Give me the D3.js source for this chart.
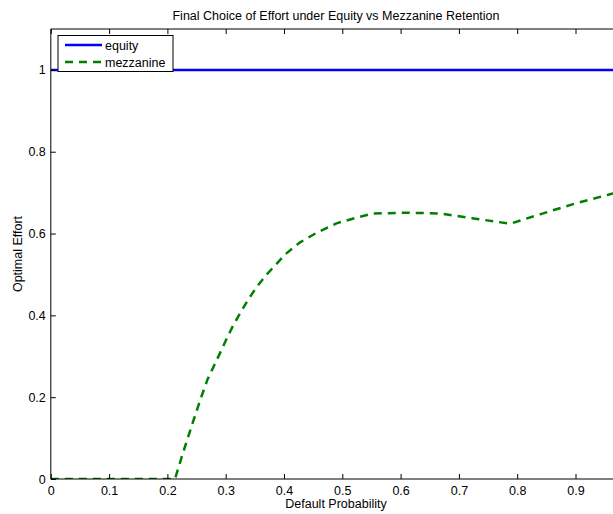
<!DOCTYPE html>
<html>
<head>
<meta charset="utf-8">
<script src="https://cdn.jsdelivr.net/npm/d3@7"></script>
<style>
    body { margin: 0; background: #fff; }
    svg { display: block; font-family: "Liberation Sans", Arial, sans-serif; }
</style>
</head>
<body>
<svg id="mainSvg" width="613" height="514"></svg>
<script>
// Data
let xTicks = [0, 0.1, 0.2, 0.3, 0.4, 0.5, 0.6, 0.7, 0.8, 0.9];
let yTicks = [0, 0.2, 0.4, 0.6, 0.8, 1];

let equityX = [0, 1];
let equityY = [1, 1];

let mezzX = [0, 0.1, 0.213, 0.227, 0.244, 0.257, 0.269, 0.278, 0.289, 0.300, 0.312,
    0.325, 0.338, 0.352, 0.369, 0.386, 0.402, 0.427, 0.456, 0.490, 0.525,
    0.553, 0.610, 0.668, 0.725, 0.788, 0.839, 0.896, 0.959, 1.0];
let mezzY = [0, 0, 0, 0.065, 0.14, 0.196, 0.244, 0.271, 0.304, 0.338, 0.373,
    0.406, 0.437, 0.467, 0.498, 0.524, 0.549, 0.578, 0.602, 0.625, 0.639,
    0.649, 0.651, 0.649, 0.637, 0.624, 0.647, 0.672, 0.696, 0.71];

let fontSize = "12.5px";

let svg = d3.select("#mainSvg");

// plot area (right edge runs past the window, as in the reference)
let pLeft = 50.8, pTop = 29, pBottom = 479;
let x = d3.scaleLinear().domain([0, 1]).range([pLeft, pLeft + 583]);
let y = d3.scaleLinear().domain([0, 1.1]).range([pBottom, pTop]);

svg.append("defs").append("clipPath").attr("id", "clip")
    .append("rect")
    .attr("x", pLeft).attr("y", pTop)
    .attr("width", 613 - pLeft).attr("height", pBottom - pTop);

let line = d3.line().x((d) => x(d[0])).y((d) => y(d[1]));

let g = svg.append("g").attr("clip-path", "url(#clip)");

g.append("path")
    .datum(d3.zip(equityX, equityY))
    .attr("d", line)
    .attr("fill", "none")
    .attr("stroke", "#0000ff")
    .attr("stroke-width", 2.5);

g.append("path")
    .datum(d3.zip(mezzX, mezzY))
    .attr("d", line)
    .attr("fill", "none")
    .attr("stroke", "#008000")
    .attr("stroke-width", 2.5)
    .attr("stroke-dasharray", "8,6");

// axes, MATLAB style: ticks pointing inward
let axisStyle = function (sel) {
    sel.select(".domain").remove();
    sel.selectAll("line").attr("stroke", "#000");
    sel.selectAll("text").attr("fill", "#000").style("font-size", fontSize);
};

svg.append("g")
    .attr("transform", `translate(0,${pBottom})`)
    .call(d3.axisBottom(x).tickValues(xTicks).tickFormat(d3.format("")).tickSizeInner(-5).tickPadding(7))
    .call(axisStyle);

svg.append("g")
    .attr("transform", `translate(0,${pTop})`)
    .call(d3.axisTop(x).tickValues(xTicks).tickFormat("").tickSizeInner(-5))
    .call(axisStyle);

svg.append("g")
    .attr("transform", `translate(${pLeft},0)`)
    .call(d3.axisLeft(y).tickValues(yTicks).tickFormat(d3.format("")).tickSizeInner(-5).tickPadding(5))
    .call(axisStyle);

// frame
svg.append("path")
    .attr("d", `M613,${pTop}H${pLeft}V${pBottom}H613`)
    .attr("fill", "none")
    .attr("stroke", "#000")
    .attr("stroke-width", 1);

// titles
svg.append("text")
    .attr("x", 336).attr("y", 20)
    .attr("text-anchor", "middle")
    .style("font-size", fontSize)
    .text("Final Choice of Effort under Equity vs Mezzanine Retention");

svg.append("text")
    .attr("x", 336).attr("y", 508)
    .attr("text-anchor", "middle")
    .style("font-size", fontSize)
    .text("Default Probability");

svg.append("text")
    .attr("transform", `translate(22,${(pTop + pBottom) / 2}) rotate(-90)`)
    .attr("text-anchor", "middle")
    .style("font-size", fontSize)
    .text("Optimal Effort");

// legend
let legend = svg.append("g");
legend.append("rect")
    .attr("x", 58).attr("y", 35.5)
    .attr("width", 115).attr("height", 36)
    .attr("fill", "#fff").attr("stroke", "#000").attr("stroke-width", 1);

let items = [
    { name: "equity", color: "#0000ff", dash: null, yy: 45 },
    { name: "mezzanine", color: "#008000", dash: "8,6", yy: 62 },
];
items.forEach((d) => {
    legend.append("line")
        .attr("x1", 65).attr("x2", 102)
        .attr("y1", d.yy).attr("y2", d.yy)
        .attr("stroke", d.color).attr("stroke-width", 2.5)
        .attr("stroke-dasharray", d.dash);
    legend.append("text")
        .attr("x", 105).attr("y", d.yy + 4.5)
        .style("font-size", fontSize)
        .text(d.name);
});
</script>
</body>
</html>
